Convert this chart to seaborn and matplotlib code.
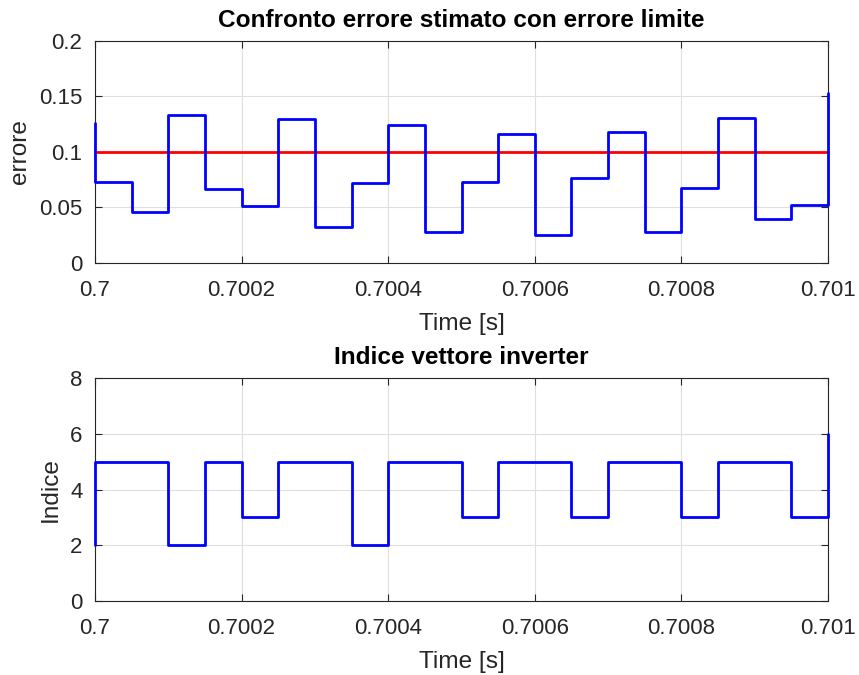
import numpy as np
import pandas as pd
import matplotlib
matplotlib.use("Agg")
import matplotlib.pyplot as plt
import seaborn as sns

sns.set_theme(style="white")
plt.rcParams['font.family'] = ['Liberation Sans', 'DejaVu Sans']

# Data
times = [0.7, 0.7, 0.70005, 0.7001, 0.70015, 0.7002, 0.70025, 0.7003, 0.70035,
         0.7004, 0.70045, 0.7005, 0.70055, 0.7006, 0.70065, 0.7007, 0.70075,
         0.7008, 0.70085, 0.7009, 0.70095, 0.701]
errore = [0.126, 0.073, 0.046, 0.133, 0.067, 0.051, 0.130, 0.032, 0.072,
          0.124, 0.028, 0.073, 0.116, 0.025, 0.077, 0.118, 0.028,
          0.068, 0.131, 0.040, 0.052, 0.153]
indice = [2, 5, 5, 2, 5, 3, 5, 5, 2, 5, 5, 3, 5, 5, 3, 5, 5, 3, 5, 5, 3, 6]
limite_t = [0.7, 0.701]
limite_v = [0.1, 0.1]

xticks = [0.7, 0.7002, 0.7004, 0.7006, 0.7008, 0.701]
xticklabels = ["0.7", "0.7002", "0.7004", "0.7006", "0.7008", "0.701"]
yticks_top = [0, 0.05, 0.1, 0.15, 0.2]
yticklabels_top = ["0", "0.05", "0.1", "0.15", "0.2"]
yticks_bot = [0, 2, 4, 6, 8]
yticklabels_bot = ["0", "2", "4", "6", "8"]

df_err = pd.DataFrame({"t": times, "v": errore})
df_idx = pd.DataFrame({"t": times, "v": indice})
df_lim = pd.DataFrame({"t": limite_t, "v": limite_v})

fig = plt.figure(figsize=(8.59, 6.75), dpi=100)
ax1 = fig.add_axes([95/859, 1-263/675, (828-95)/859, (263-41)/675])
ax2 = fig.add_axes([95/859, 1-601/675, (828-95)/859, (601-378)/675])

dark = "#262626"
fs = 16
lfs = 17.6

sns.lineplot(data=df_err, x="t", y="v", ax=ax1, estimator=None, sort=False,
             drawstyle="steps-post", color="#0000ff", linewidth=2, clip_on=False, zorder=5)
sns.lineplot(data=df_lim, x="t", y="v", ax=ax1, estimator=None, sort=False,
             color="#ff0000", linewidth=2, clip_on=False, zorder=4)
sns.lineplot(data=df_idx, x="t", y="v", ax=ax2, estimator=None, sort=False,
             drawstyle="steps-post", color="#0000ff", linewidth=2, clip_on=False, zorder=5)

for ax, yt, ytl, ylim, ylab, title in [
        (ax1, yticks_top, yticklabels_top, (0, 0.2), "errore", "Confronto errore stimato con errore limite"),
        (ax2, yticks_bot, yticklabels_bot, (0, 8), "Indice", "Indice vettore inverter")]:
    ax.set_xlim(0.7, 0.701)
    ax.set_ylim(*ylim)
    ax.set_xticks(xticks)
    ax.set_xticklabels(xticklabels)
    ax.set_yticks(yt)
    ax.set_yticklabels(ytl)
    ax.grid(True, color="#dfdfdf", linewidth=0.8)
    ax.set_axisbelow(True)
    for s in ax.spines.values():
        s.set_color(dark)
        s.set_linewidth(0.8)
        s.set_visible(True)
    ax.tick_params(direction="in", length=5, width=0.8, color=dark,
                   labelcolor=dark, labelsize=fs, top=True, right=True,
                   bottom=True, left=True)
    ax.tick_params(axis="x", pad=12)
    ax.tick_params(axis="y", pad=9)
    ax.set_xlabel("Time [s]", fontsize=lfs, color=dark, labelpad=9)
    ax.set_ylabel(ylab, fontsize=lfs, color=dark, labelpad=6)
    ax.set_title(title, fontsize=lfs, fontweight="bold", color="black", pad=10)

fig.savefig("out.png", dpi=100, facecolor="white")
